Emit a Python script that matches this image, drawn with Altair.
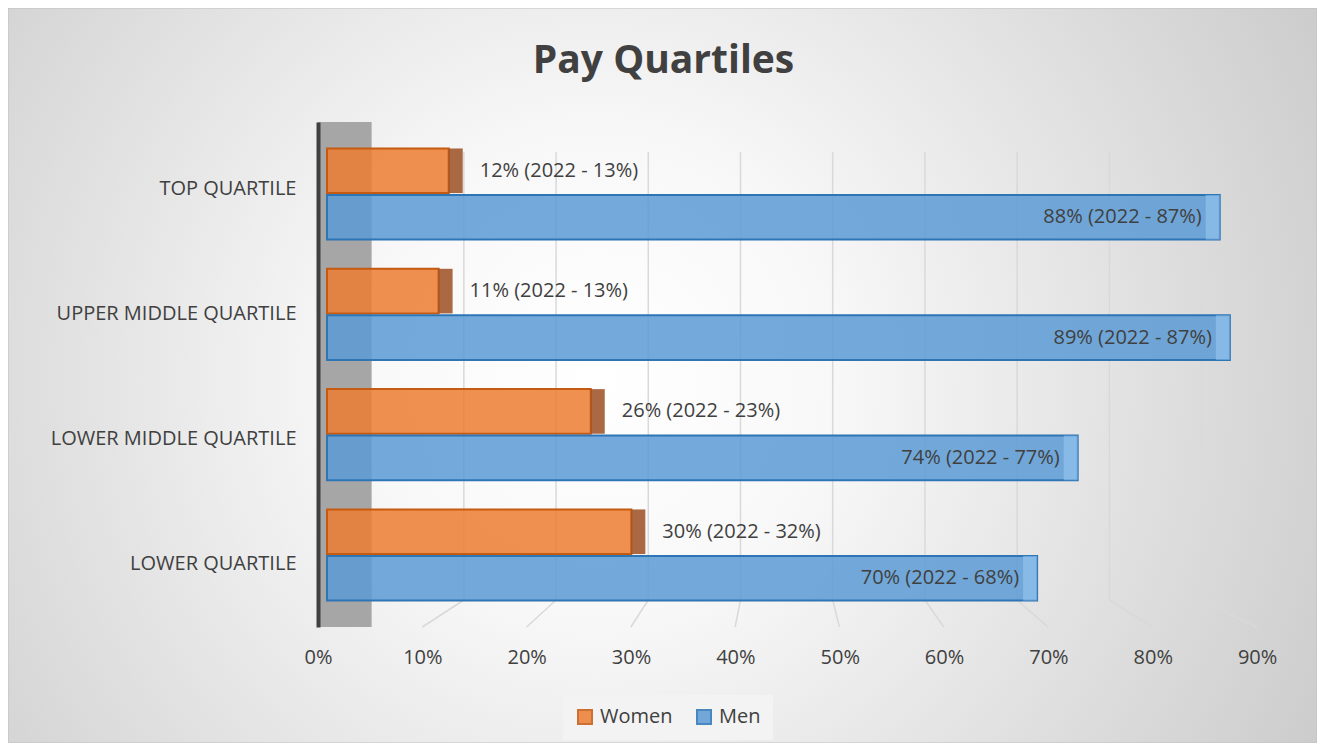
import altair as alt
import pandas as pd

# ---- data ----
quartiles = ["TOP QUARTILE", "UPPER MIDDLE QUARTILE", "LOWER MIDDLE QUARTILE", "LOWER QUARTILE"]
series = ["Women", "Men"]
women = [12, 11, 26, 30]
men = [88, 89, 74, 70]
women_2022 = [13, 13, 23, 32]
men_2022 = [87, 87, 77, 68]
ticks = [0, 10, 20, 30, 40, 50, 60, 70, 80, 90]

rows = []
for q, w, m, w22, m22 in zip(quartiles, women, men, women_2022, men_2022):
    rows.append({"quartile": q, "series": "Women", "value": w, "label": f"{w}% (2022 - {w22}%)"})
    rows.append({"quartile": q, "series": "Men", "value": m, "label": f"{m}% (2022 - {m22}%)"})
df = pd.DataFrame(rows)
grid_df = pd.DataFrame({"tick": ticks[1:]})
one = pd.DataFrame({"k": [0]})

# ---- layout ----
W, H = 913, 505
PAD_L, PAD_T, PAD_R, PAD_B = 319, 114, 77, 116
FONT = "Open Sans"
TXT = "#404040"

x_scale = alt.Scale(domain=[0, 90], nice=False, zero=True)
y_enc = alt.Y(
    "quartile:N",
    sort=quartiles,
    title=None,
    scale=alt.Scale(paddingInner=0.243, paddingOuter=0.22),
    axis=alt.Axis(
        labelFont=FONT, labelFontSize=20, labelColor=TXT, labelPadding=22,
        ticks=False, domain=True, domainColor="#404040", domainWidth=4,
        offset=9, grid=False, zindex=1, labelLimit=400,
        labelOffset={"expr": "datum.value == 'TOP QUARTILE' ? -5 : datum.value == 'LOWER MIDDLE QUARTILE' ? 4 : datum.value == 'LOWER QUARTILE' ? 9 : 0"},
    ),
)
yoff_enc = alt.YOffset("series:N", sort=series, scale=alt.Scale(paddingInner=0.04))

# background with radial gradient
bg = alt.Chart(one).mark_rect(
    fill={
        "gradient": "radial",
        "stops": [
            {"offset": 0, "color": "#ffffff"},
            {"offset": 0.25, "color": "#f8f8f8"},
            {"offset": 1, "color": "#c2c2c2"},
        ],
        "x1": 0.45, "y1": 0.5, "x2": 0.45, "y2": 0.5, "r1": 0, "r2": 0.72,
    },
    stroke="#c0c0c0",
    strokeWidth=1,
).encode(
    x=alt.value(-PAD_L), x2=alt.value(W + PAD_R),
    y=alt.value(-PAD_T), y2=alt.value(H + PAD_B),
)

# grey side wall
wall = alt.Chart(one).mark_rect(color="#a6a6a6").encode(
    x=alt.datum(-0.887, scale=x_scale), x2=alt.datum(4.4),
    y=alt.value(0), y2=alt.value(H),
)

# gridlines on the back plane (perspective) and floor lines to the front labels
grid_base = alt.Chart(grid_df).transform_calculate(
    back="4.4 + 0.909 * datum.tick",
    front="-0.887 + 1.028 * datum.tick",
)
grid = grid_base.mark_rule(color="#d9d9d9", strokeWidth=1.5).encode(
    x=alt.X("back:Q", scale=x_scale),
    y=alt.value(30), y2=alt.value(478),
)
floor = grid_base.mark_rule(color="#d9d9d9", strokeWidth=1.5).encode(
    x=alt.X("back:Q", scale=x_scale), x2="front:Q",
    y=alt.value(478), y2=alt.value(H),
)

legend_kw = dict(
    title=None, orient="none", legendX=236, legendY=573, direction="horizontal",
    symbolType="square", symbolSize=196, symbolStrokeWidth=2,
    labelFont=FONT, labelFontSize=20, labelColor=TXT, labelOffset=5,
    columnPadding=20, padding=12, fillColor="#f3f3f3", zindex=1,
    symbolOpacity=0.85,
)

bars = alt.Chart(df).mark_bar(fillOpacity=0.85, strokeWidth=2).encode(
    x=alt.X(
        "value:Q",
        scale=x_scale,
        title=None,
        axis=alt.Axis(
            values=ticks, labelExpr="datum.value + '%'", labelFont=FONT,
            labelFontSize=20, labelColor=TXT, labelPadding=20, ticks=False,
            domain=False, grid=False, zindex=1, labelFlush=False,
            labelOffset={"expr": "-9 + 0.29 * datum.value"},
        ),
    ),
    y=y_enc,
    yOffset=yoff_enc,
    fill=alt.Fill(
        "series:N", sort=series,
        scale=alt.Scale(domain=series, range=["#ED7D31", "#5B9BD5"]),
        legend=alt.Legend(**legend_kw),
    ),
    stroke=alt.Stroke(
        "series:N", sort=series,
        scale=alt.Scale(domain=series, range=["#C55A11", "#2E75B6"]),
        legend=alt.Legend(**legend_kw),
    ),
)

# 3D-ish end faces
women_side = alt.Chart(df).transform_filter("datum.series == 'Women'").mark_rect(
    color="#9c4f22", opacity=0.85, x2Offset=14
).encode(x=alt.X("value:Q", scale=x_scale), x2="value:Q", y=y_enc, yOffset=yoff_enc)

men_side = alt.Chart(df).transform_filter("datum.series == 'Men'").mark_rect(
    color="#9ccaf5", opacity=0.55, xOffset=-14
).encode(x=alt.X("value:Q", scale=x_scale), x2="value:Q", y=y_enc, yOffset=yoff_enc)

women_text = alt.Chart(df).transform_filter("datum.series == 'Women'").mark_text(
    align="left", baseline="middle", dx=31, font=FONT, fontSize=20, color=TXT
).encode(x=alt.X("value:Q", scale=x_scale), y=y_enc, yOffset=yoff_enc, text="label:N")

men_text = alt.Chart(df).transform_filter("datum.series == 'Men'").mark_text(
    align="right", baseline="middle", dx=-18, font=FONT, fontSize=20, color=TXT
).encode(x=alt.X("value:Q", scale=x_scale), y=y_enc, yOffset=yoff_enc, text="label:N")

chart = alt.layer(
    bg, wall, grid, floor, bars, women_side, men_side, women_text, men_text
).properties(
    width=W,
    height=H,
    padding={"left": PAD_L, "top": PAD_T, "right": PAD_R, "bottom": PAD_B},
    autosize=alt.AutoSizeParams(type="none"),
    title=alt.TitleParams(
        "Pay Quartiles", font=FONT, fontSize=39, fontWeight="bold", color=TXT,
        anchor="middle", offset=0, dx=-120, dy=104, baseline="alphabetic",
    ),
).configure_view(stroke=None).configure(background="#ffffff")

chart.save("out.html", embed_options={"renderer": "svg", "actions": False})
